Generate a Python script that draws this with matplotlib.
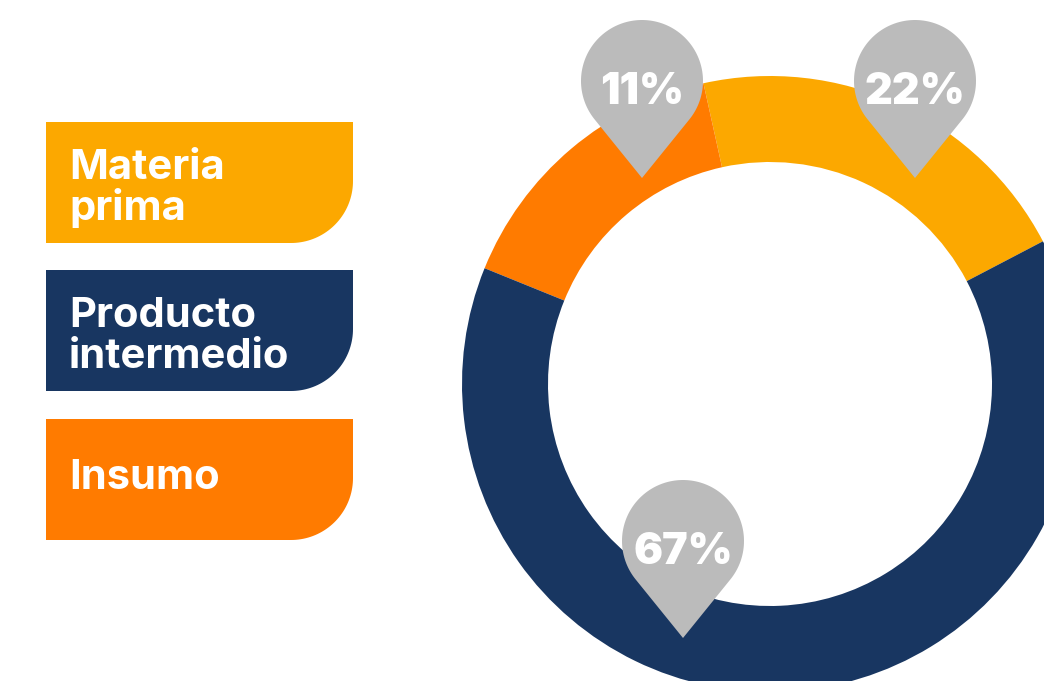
import numpy as np
import matplotlib.pyplot as plt
from matplotlib.patches import Polygon

W, H = 1044, 681  # canvas in pixels, axes use pixel units (y up)

# ring shares as drawn, counter-clockwise from the right
categories = ['Materia prima', 'Insumo', 'Producto intermedio']
shares = [20.8, 15.4, 63.8]
pct_labels = ['22%', '11%', '67%']
colors = ['#FCA800', '#FF7B00', '#183661']

legend_labels = [['Materia', 'prima'], ['Producto', 'intermedio'], ['Insumo']]
legend_colors = ['#FCA800', '#183661', '#FF7B00']

# layout (image pixel coords, y down)
center = (770, 384)
r_out, ring_w = 308, 86
pin_tips = [(915, 178), (642, 178), (683, 638)]
pin_r, pin_len = 61, 97
box_x, box_w, box_h, corner = 46, 307, 121, 62
box_tops = [122, 270, 419]

fig = plt.figure(figsize=(W / 100, H / 100), dpi=100)
fig.patch.set_facecolor('white')
ax = fig.add_axes([0, 0, 1, 1])

ax.pie(shares, colors=colors, radius=r_out, center=(center[0], H - center[1]),
       startangle=27.6, counterclock=True,
       wedgeprops=dict(width=ring_w, linewidth=0))


def pin(tx, ty, label):
    ty = H - ty
    cx, cy = tx, ty + pin_len
    th = np.degrees(np.arccos(pin_r / pin_len))
    a = np.radians(np.linspace(-90 + th, 270 - th, 120))
    pts = np.column_stack([cx + pin_r * np.cos(a), cy + pin_r * np.sin(a)])
    pts = np.vstack([pts, [tx, ty]])
    ax.add_patch(Polygon(pts, closed=True, facecolor='#BBBBBB', edgecolor='none', zorder=5))
    ax.text(cx, cy - 11, label, color='white', fontsize=31, family='Inter',
            fontweight=900, ha='center', va='center', zorder=6)


for (tx, ty), lab in zip(pin_tips, pct_labels):
    pin(tx, ty, lab)


def box(top, color, lines):
    y0 = H - top - box_h
    x1 = box_x + box_w
    a = np.radians(np.linspace(0, -90, 40))
    arc = np.column_stack([x1 - corner + corner * np.cos(a), y0 + corner + corner * np.sin(a)])
    pts = np.vstack([[box_x, y0], [box_x, y0 + box_h], [x1, y0 + box_h], arc])
    ax.add_patch(Polygon(pts, closed=True, facecolor=color, edgecolor='none'))
    if len(lines) == 2:
        bases = [top + 57, top + 98]
    else:
        bases = [top + 70]
    for txt, b in zip(lines, bases):
        ax.text(box_x + 23, H - b, txt, color='white', fontsize=30, family='Inter',
                fontweight='bold', ha='left', va='baseline')


for top, col, lines in zip(box_tops, legend_colors, legend_labels):
    box(top, col, lines)

ax.set_xlim(0, W)
ax.set_ylim(0, H)
ax.set_aspect('equal')
ax.axis('off')

fig.savefig('out.png', dpi=100, facecolor='white')
